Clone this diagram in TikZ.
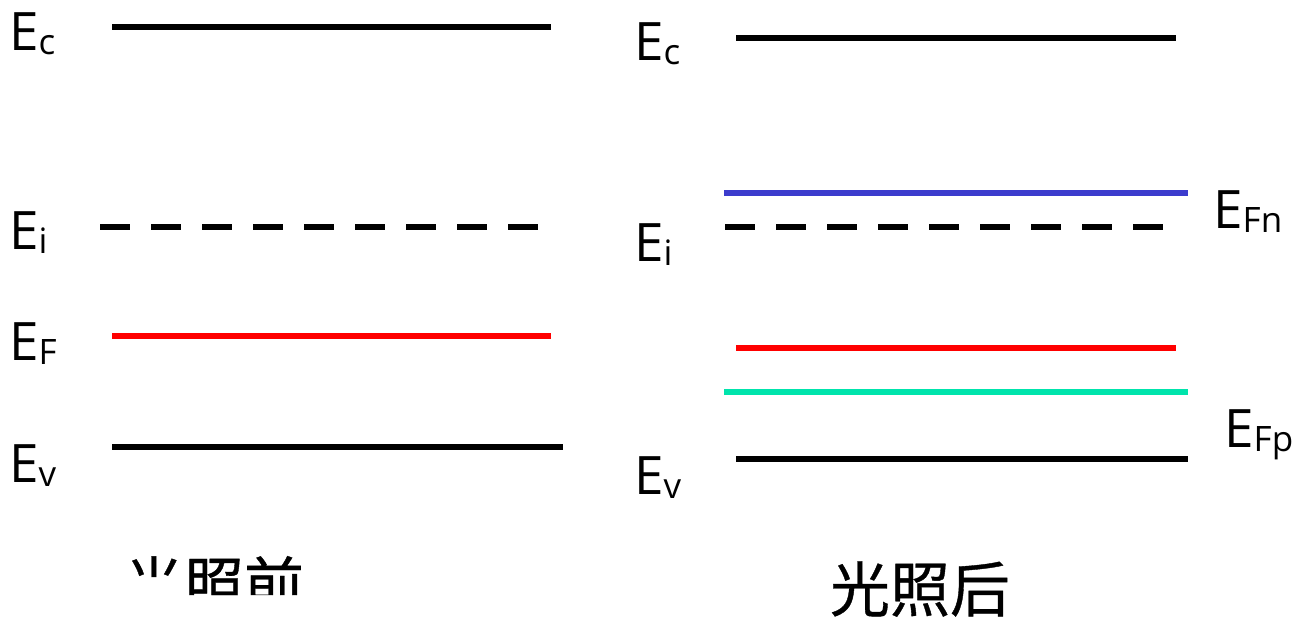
\documentclass[tikz,border=0pt]{standalone}
\usepackage{fontspec}
\setmainfont{Open Sans}
\newfontfamily\cjk{Noto Sans CJK SC}[FakeBold=0.6]
\definecolor{levelblue}{RGB}{60,60,205}
\definecolor{levelred}{RGB}{255,0,0}
\definecolor{levelgreen}{RGB}{0,228,172}
% energy symbol with a lowered subscript
\newcommand{\lvl}[1]{E\raisebox{-4pt}{\fontsize{35pt}{35pt}\selectfont #1}}

\begin{document}
\begin{tikzpicture}[x=1pt,y=-1pt,
  level/.style={line width=6pt},
  dashlevel/.style={level, dash pattern=on 30pt off 21pt},
  lab/.style={anchor=base west, inner sep=0pt, font=\fontsize{53pt}{53pt}\selectfont},
  captext/.style={inner sep=0pt, font=\cjk\fontsize{60pt}{60pt}\selectfont}]
\useasboundingbox (0,0) rectangle (1298,623);

% ---- before illumination ----
\coordinate (lEc1) at (112,27);  \coordinate (lEc2) at (551,27);
\coordinate (lEi1) at (100,227); \coordinate (lEi2) at (538,227);
\coordinate (lEF1) at (112,336); \coordinate (lEF2) at (551,336);
\coordinate (lEv1) at (112,447); \coordinate (lEv2) at (563,447);

\draw[level] (lEc1) -- (lEc2);
\draw[dashlevel] (lEi1) -- (lEi2);
\draw[level, levelred] (lEF1) -- (lEF2);
\draw[level] (lEv1) -- (lEv2);

\node[lab] (tlEc) at (9,51)  {\lvl{c}};
\node[lab] (tlEi) at (9,249) {\lvl{i}};
\node[lab] (tlEF) at (9,360) {\lvl{F}};
\node[lab] (tlEv) at (9,482) {\lvl{v}};

% caption, its lower part cut off
\begin{scope}
  \clip (100,540) rectangle (184,577) (184,540) rectangle (340,595);
  \node[captext] (before) at (214,584) {光照前};
\end{scope}

% ---- after illumination ----
\coordinate (rEc1) at (736,38);   \coordinate (rEc2) at (1176,38);
\coordinate (rEFn1) at (724,193); \coordinate (rEFn2) at (1188,193);
\coordinate (rEi1) at (725,227);  \coordinate (rEi2) at (1163,227);
\coordinate (rEF1) at (736,348);  \coordinate (rEF2) at (1176,348);
\coordinate (rEFp1) at (724,392); \coordinate (rEFp2) at (1188,392);
\coordinate (rEv1) at (736,459);  \coordinate (rEv2) at (1188,459);

\draw[level] (rEc1) -- (rEc2);
\draw[level, levelblue] (rEFn1) -- (rEFn2);
\draw[dashlevel] (rEi1) -- (rEi2);
\draw[level, levelred] (rEF1) -- (rEF2);
\draw[level, levelgreen] (rEFp1) -- (rEFp2);
\draw[level] (rEv1) -- (rEv2);

\node[lab] (trEc) at (634,61)  {\lvl{c}};
\node[lab] (trEi) at (634,261) {\lvl{i}};
\node[lab] (trEv) at (634,494) {\lvl{v}};
\node[lab] (trEFn) at (1213,228) {\lvl{Fn}};
\node[lab] (trEFp) at (1224,447) {\lvl{Fp}};

\node[captext] (after) at (920,589) {光照后};
\end{tikzpicture}
\end{document}
